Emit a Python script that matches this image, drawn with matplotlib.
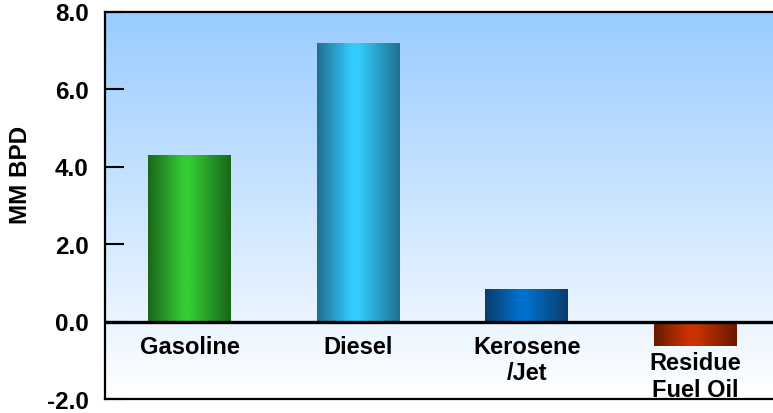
import numpy as np
import matplotlib
matplotlib.use("Agg")
import matplotlib.pyplot as plt
from matplotlib.colors import LinearSegmentedColormap

# Chart data
categories = ["Gasoline", "Diesel", "Kerosene\n/Jet", "Residue\nFuel Oil"]
values = [4.28, 7.15, 0.81, -0.62]
bar_dark = ["#1a661a", "#1f6f8f", "#0a3c6b", "#661a00"]
bar_light = ["#33cc33", "#33ccff", "#0070cc", "#cc3300"]
y_ticks = [-2.0, 0.0, 2.0, 4.0, 6.0, 8.0]
y_label = "MM BPD"

plt.rcParams["font.family"] = ["Liberation Sans", "DejaVu Sans"]
plt.rcParams["font.weight"] = "bold"

W, H = 773, 414
fig = plt.figure(figsize=(W / 100, H / 100), dpi=100)
# axes runs past the right edge of the picture, as in the original
ax = fig.add_axes([105.5 / W, 14 / H, 674 / W, 387.5 / H])

x = np.arange(len(categories))

# Background: light blue at top fading to white
bg = LinearSegmentedColormap.from_list("bg", ["#ffffff", "#99ccff"])
ax.imshow(
    np.linspace(0, 1, 256).reshape(-1, 1),
    cmap=bg,
    extent=[-0.5, len(categories) - 0.5, y_ticks[0], y_ticks[-1]],
    origin="lower",
    aspect="auto",
    zorder=0,
)

# Bars with a cylinder-like horizontal shading
bars = ax.bar(x, values, width=0.49, color="none", edgecolor="none", zorder=2)
grad = np.linspace(0, 1, 256).reshape(1, -1)
for patch, dark, light in zip(bars.patches, bar_dark, bar_light):
    cmap = LinearSegmentedColormap.from_list(
        "bar", [(0.0, dark), (0.42, light), (0.5, light), (1.0, dark)]
    )
    x0 = patch.get_x()
    y0 = patch.get_y()
    ax.imshow(
        grad,
        cmap=cmap,
        extent=[x0, x0 + patch.get_width(), y0, y0 + patch.get_height()],
        aspect="auto",
        zorder=2,
    )

ax.set_xlim(-0.5, len(categories) - 0.5)
ax.set_ylim(y_ticks[0], y_ticks[-1])

ax.axhline(0, color="black", linewidth=2.4, zorder=3)

# Category labels sit under the zero line, or under the bar if negative
for xi, v, name in zip(x, values, categories):
    off = -9.5 if v >= 0 else -4
    ax.annotate(
        name,
        xy=(xi, min(v, 0)),
        xytext=(0, off),
        textcoords="offset points",
        ha="center",
        va="top",
        fontsize=17,
        fontweight="bold",
        linespacing=1.19,
        zorder=4,
    )

ax.set_xticks([])
ax.set_yticks(y_ticks)
ax.set_yticklabels([f"{t:.1f}" for t in y_ticks], fontsize=17.5, fontweight="bold")
ax.tick_params(axis="y", direction="in", length=14, width=1.5, pad=12)

ax.set_ylabel(y_label, fontsize=17.5, fontweight="bold", va="center")
ax.yaxis.set_label_coords((21 - 105.5) / 674, (400 - 174.5) / 387.5)

for side in ["left", "top", "bottom"]:
    ax.spines[side].set_linewidth(1.6)
ax.spines["right"].set_visible(False)

fig.savefig("out.png", dpi=100)
